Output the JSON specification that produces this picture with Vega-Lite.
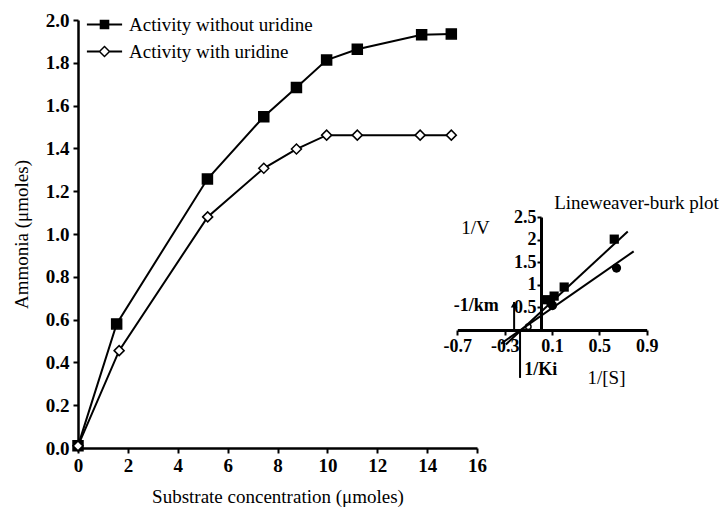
{
  "$schema": "https://vega.github.io/schema/vega-lite/v6.json",
  "width": 645,
  "height": 428,
  "autosize": {"type": "none"},
  "padding": {"left": 78, "top": 20, "right": 0, "bottom": 62},
  "background": "white",
  "config": {
    "font": "Liberation Serif",
    "view": {"stroke": null},
    "axis": {
      "domainColor": "black", "domainWidth": 2.5, "tickColor": "black", "tickWidth": 2, "tickSize": 5,
      "labelColor": "black", "labelFont": "Liberation Serif", "labelFontSize": 19, "labelFontWeight": "bold",
      "titleColor": "black", "titleFont": "Liberation Serif", "titleFontSize": 19, "titleFontWeight": "normal",
      "grid": false, "labelPadding": 3, "labelOverlap": false, "labelFlush": false
    },
    "text": {"font": "Liberation Serif", "fontSize": 19, "color": "black"}
  },
  "datasets": {
    "main": [
      {"series": "Activity without uridine", "x": 0, "y": 0.01},
      {"series": "Activity without uridine", "x": 1.55, "y": 0.58},
      {"series": "Activity without uridine", "x": 5.19, "y": 1.257},
      {"series": "Activity without uridine", "x": 7.45, "y": 1.548},
      {"series": "Activity without uridine", "x": 8.76, "y": 1.685},
      {"series": "Activity without uridine", "x": 9.97, "y": 1.813},
      {"series": "Activity without uridine", "x": 11.2, "y": 1.863},
      {"series": "Activity without uridine", "x": 13.78, "y": 1.931},
      {"series": "Activity without uridine", "x": 14.97, "y": 1.935},
      {"series": "Activity with uridine", "x": 0, "y": 0.01},
      {"series": "Activity with uridine", "x": 1.65, "y": 0.455},
      {"series": "Activity with uridine", "x": 5.2, "y": 1.08},
      {"series": "Activity with uridine", "x": 7.45, "y": 1.307},
      {"series": "Activity with uridine", "x": 8.76, "y": 1.397},
      {"series": "Activity with uridine", "x": 9.97, "y": 1.462},
      {"series": "Activity with uridine", "x": 11.2, "y": 1.462},
      {"series": "Activity with uridine", "x": 13.72, "y": 1.462},
      {"series": "Activity with uridine", "x": 14.97, "y": 1.462}
    ],
    "lb_pts": [
      {"group": "sq", "x": 0.626, "y": 2.01},
      {"group": "sq", "x": 0.203, "y": 0.95},
      {"group": "sq", "x": 0.118, "y": 0.75},
      {"group": "sq", "x": 0.062, "y": 0.67},
      {"group": "ci", "x": 0.645, "y": 1.37},
      {"group": "ci", "x": 0.104, "y": 0.54},
      {"group": "ci", "x": 0.09, "y": 0.6}
    ],
    "lb_lines": [
      {"line": "without", "x": -0.29, "y": -0.32},
      {"line": "without", "x": 0.74, "y": 2.18},
      {"line": "with", "x": -0.33, "y": -0.3},
      {"line": "with", "x": 0.79, "y": 1.74}
    ]
  },
  "layer": [
    {
      "data": {"name": "main"},
      "layer": [
        {
          "mark": {"type": "line", "color": "black", "strokeWidth": 2},
          "encoding": {
            "x": {
              "field": "x", "type": "quantitative",
              "scale": {"domain": [0, 16], "range": [0, 399], "nice": false, "zero": false},
              "axis": {"orient": "bottom", "values": [0, 2, 4, 6, 8, 10, 12, 14, 16], "format": "d", "title": "Substrate concentration (μmoles)", "titlePadding": 12}
            },
            "y": {
              "field": "y", "type": "quantitative",
              "scale": {"domain": [0, 2], "nice": false, "zero": false},
              "axis": {"orient": "left", "values": [0, 0.2, 0.4, 0.6, 0.8, 1.0, 1.2, 1.4, 1.6, 1.8, 2.0], "format": ".1f", "title": "Ammonia (μmoles)", "titlePadding": 14, "labelPadding": 4}
            },
            "detail": {"field": "series"}
          }
        },
        {
          "mark": {"type": "point", "filled": true, "stroke": "black", "strokeWidth": 1.5, "size": 100, "opacity": 1},
          "encoding": {
            "x": {"field": "x", "type": "quantitative"},
            "y": {"field": "y", "type": "quantitative"},
            "shape": {"field": "series", "scale": {"domain": ["Activity without uridine", "Activity with uridine"], "range": ["square", "diamond"]}, "legend": null},
            "fill": {"field": "series", "scale": {"domain": ["Activity without uridine", "Activity with uridine"], "range": ["black", "white"]}, "legend": null}
          }
        },
        {
          "mark": {"type": "point", "filled": true, "color": "black", "opacity": 0, "size": 256},
          "encoding": {
            "x": {"field": "x", "type": "quantitative"},
            "y": {"field": "y", "type": "quantitative"},
            "shape": {
              "field": "series",
              "scale": {
                "domain": ["Activity without uridine", "Activity with uridine"],
                "range": [
                  "M-2.2,-0.12H-0.6V-0.6H0.6V-0.12H2.2V0.12H0.6V0.6H-0.6V0.12H-2.2Z",
                  "M-2.2,-0.12H-0.63L0,-0.75L0.63,-0.12H2.2V0.12H0.63L0,0.75L-0.63,0.12H-2.2ZM0,-0.5L-0.5,0L0,0.5L0.5,0Z"
                ]
              },
              "legend": {
                "title": null, "orient": "none", "legendX": 17, "legendY": -5, "padding": 0,
                "symbolSize": 256, "symbolOpacity": 1, "symbolFillColor": "black", "symbolStrokeWidth": 0,
                "labelFont": "Liberation Serif", "labelFontSize": 19, "labelColor": "black", "labelOffset": 15, "rowPadding": 7, "labelLimit": 0
              }
            }
          }
        }
      ],
      "resolve": {"scale": {"shape": "independent"}}
    },
    {
      "layer": [
        {
          "data": {"name": "lb_lines"},
          "mark": {"type": "line", "color": "black", "strokeWidth": 2},
          "encoding": {
            "x": {
              "field": "x", "type": "quantitative",
              "scale": {"domain": [-0.7, 0.9], "range": [379.3, 568.7], "nice": false, "zero": false},
              "axis": {"orient": "bottom", "offset": -118, "values": [-0.7, -0.3, 0.1, 0.5, 0.9], "labelExpr": "'' + datum.value", "labelFontSize": 18, "labelPadding": 2, "domainWidth": 3, "tickSize": 5, "title": "1/[S]", "titleX": 528, "titleY": 47, "titleAlign": "center", "titleBaseline": "middle", "titleAngle": 0}
            },
            "y": {
              "field": "y", "type": "quantitative",
              "scale": {"domain": [0, 2.5], "range": [310, 197], "nice": false, "zero": false},
              "axis": {"orient": "left", "offset": -463, "values": [0.5, 1, 1.5, 2, 2.5], "labelExpr": "'' + datum.value", "labelFontSize": 18, "labelPadding": 1, "domainWidth": 3, "tickSize": 4, "title": "1/V", "titleAngle": 0, "titleX": -66, "titleY": 207, "titleAlign": "center", "titleBaseline": "middle"}
            },
            "detail": {"field": "line"}
          }
        },
        {
          "data": {"name": "lb_pts"},
          "transform": [{"filter": "datum.group === 'ci'"}],
          "mark": {"type": "point", "shape": "circle", "filled": true, "color": "black", "size": 85, "opacity": 1},
          "encoding": {"x": {"field": "x", "type": "quantitative"}, "y": {"field": "y", "type": "quantitative"}}
        },
        {
          "data": {"name": "lb_pts"},
          "transform": [{"filter": "datum.group === 'sq'"}],
          "mark": {"type": "point", "shape": "square", "filled": true, "color": "black", "size": 85, "opacity": 1},
          "encoding": {"x": {"field": "x", "type": "quantitative"}, "y": {"field": "y", "type": "quantitative"}}
        },
        {
          "data": {"values": [{}]},
          "mark": {"type": "point", "shape": "circle", "filled": false, "color": "black", "strokeWidth": 1.5, "size": 30, "opacity": 1},
          "encoding": {"x": {"datum": -0.1, "type": "quantitative"}, "y": {"datum": 0.07, "type": "quantitative"}}
        },
        {
          "data": {"values": [{}]},
          "mark": {"type": "rule", "color": "black", "strokeWidth": 2},
          "encoding": {"x": {"datum": -0.22, "type": "quantitative"}, "y": {"datum": 0, "type": "quantitative"}, "y2": {"datum": 0.62}}
        },
        {
          "data": {"values": [{}]},
          "mark": {"type": "point", "shape": "triangle-up", "filled": true, "color": "black", "size": 45, "opacity": 1},
          "encoding": {"x": {"datum": -0.22, "type": "quantitative"}, "y": {"datum": 0.56, "type": "quantitative"}}
        },
        {
          "data": {"values": [{}]},
          "mark": {"type": "rule", "color": "black", "strokeWidth": 2},
          "encoding": {"x": {"datum": -0.17, "type": "quantitative"}, "y": {"datum": 0, "type": "quantitative"}, "y2": {"datum": -1.06}}
        },
        {
          "data": {"values": [{}]},
          "mark": {"type": "text", "text": "-1/km", "align": "right", "baseline": "middle", "fontWeight": "bold", "fontSize": 18},
          "encoding": {"x": {"datum": -0.35, "type": "quantitative"}, "y": {"datum": 0.52, "type": "quantitative"}}
        },
        {
          "data": {"values": [{}]},
          "mark": {"type": "text", "text": "1/Ki", "align": "left", "baseline": "middle", "fontWeight": "bold", "fontSize": 18},
          "encoding": {"x": {"datum": -0.135, "type": "quantitative"}, "y": {"datum": -0.88, "type": "quantitative"}}
        },
        {
          "data": {"values": [{}]},
          "mark": {"type": "text", "text": "Lineweaver-burk plot", "align": "left", "baseline": "middle", "fontSize": 19},
          "encoding": {"x": {"datum": 0.118, "type": "quantitative"}, "y": {"datum": 2.81, "type": "quantitative"}}
        }
      ]
    }
  ],
  "resolve": {
    "scale": {"x": "independent", "y": "independent"},
    "axis": {"x": "independent", "y": "independent"}
  }
}
